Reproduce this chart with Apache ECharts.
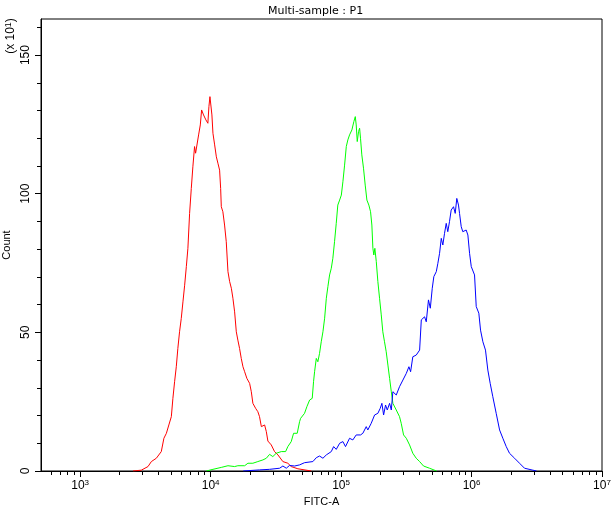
<!DOCTYPE html>
<html>
<head>
<meta charset="utf-8">
<script src="https://cdn.jsdelivr.net/npm/echarts@6/dist/echarts.min.js"></script>
<style>
html,body{margin:0;padding:0;background:#fff;}
#chart{width:611px;height:510px;}
</style>
</head>
<body>
<div id="chart"></div>
<script>
// FITC-A values are stored as log10 exponents (decades); counts in units of x10^1
const title = 'Multi-sample : P1';
const xName = 'FITC-A';
const yName = 'Count';
const yScaleNote = '(x 10';
const xMajor = [3, 4, 5, 6, 7];
const yMajor = [0, 50, 100, 150];
const yMinor = [10, 20, 30, 40, 60, 70, 80, 90, 110, 120, 130, 140, 160];

const redX = [3.405,3.469,3.520,3.546,3.584,3.622,3.642,3.661,3.680,3.699,3.711,3.724,3.737,3.749,3.762,3.775,3.788,3.801,3.814,3.826,3.839,3.852,3.864,3.877,3.885,3.898,3.908,3.921,3.931,3.946,3.964,3.979,3.987,3.995,4.000,4.005,4.010,4.018,4.031,4.044,4.056,4.069,4.077,4.082,4.094,4.107,4.120,4.133,4.146,4.159,4.171,4.184,4.197,4.209,4.222,4.235,4.248,4.261,4.278,4.299,4.312,4.324,4.345,4.362,4.375,4.389,4.401,4.414,4.427,4.439,4.465,4.490,4.516,4.554,4.592,4.618,4.669,4.772];
const redY = [0,0.3,1.6,3.4,4.6,7.0,11.8,13.6,16.6,19.6,26.2,32.2,37.6,44.2,50.2,55.0,61.0,67.0,73.7,80.3,92.9,101.9,109.7,117.0,114.6,114.0,121.2,124.8,130.2,128.4,126.6,125.4,131.4,135.0,135.6,134.4,128.4,121.8,117.6,113.3,111.0,108.5,101.9,95.3,93.5,88.7,82.7,71.9,68.3,65.9,62.3,57.4,50.2,47.2,44.2,40.6,37.6,35.8,33.4,31.6,28.6,24.4,22.6,21.4,19.6,16.0,15.4,16.6,14.2,10.8,9.4,7.0,5.8,3.4,2.8,1.6,0.8,0];

const greenX = [3.967,4.018,4.082,4.133,4.184,4.209,4.261,4.286,4.324,4.362,4.401,4.427,4.452,4.477,4.503,4.542,4.575,4.592,4.618,4.636,4.664,4.682,4.690,4.720,4.738,4.759,4.779,4.789,4.797,4.810,4.822,4.835,4.848,4.861,4.874,4.887,4.899,4.912,4.925,4.937,4.950,4.963,4.975,4.989,5.002,5.014,5.027,5.040,5.052,5.065,5.083,5.098,5.109,5.116,5.124,5.134,5.142,5.149,5.159,5.172,5.185,5.198,5.213,5.226,5.236,5.244,5.251,5.259,5.270,5.282,5.295,5.308,5.320,5.333,5.346,5.359,5.372,5.385,5.397,5.423,5.448,5.461,5.479,5.500,5.525,5.550,5.576,5.602,5.632,5.678,5.732];
const greenY = [0,0.6,1.3,1.9,1.6,1.9,1.9,2.8,2.8,3.4,4.0,4.6,6.0,5.2,6.4,7.0,7.0,8.8,10.6,13.6,13.6,17.8,19.0,20.8,23.2,25.6,26.2,32.2,35.8,40.6,39.4,42.4,46.6,50.2,55.1,62.3,66.5,70.7,73.1,76.7,82.7,89.3,95.9,97.7,99.5,104.3,110.3,117.0,119.4,121.2,123.0,126.0,127.8,124.8,118.8,122.4,123.6,120.0,114.0,109.2,103.1,97.7,95.9,93.5,88.7,80.3,77.9,80.3,75.5,68.3,62.3,56.3,50.2,46.6,43.0,38.2,33.4,28.6,24.4,22.0,19.6,17.2,13.0,11.8,9.4,6.4,4.6,3.4,1.8,1.0,0];

const blueX = [4.250,4.375,4.452,4.529,4.554,4.580,4.605,4.644,4.682,4.720,4.784,4.810,4.835,4.861,4.887,4.925,4.943,4.963,4.989,5.014,5.034,5.065,5.090,5.116,5.149,5.167,5.193,5.205,5.231,5.257,5.282,5.300,5.313,5.326,5.341,5.354,5.372,5.385,5.397,5.423,5.448,5.474,5.500,5.520,5.533,5.550,5.576,5.602,5.615,5.640,5.653,5.670,5.684,5.699,5.711,5.730,5.742,5.755,5.768,5.780,5.793,5.806,5.818,5.831,5.844,5.862,5.875,5.887,5.900,5.908,5.921,5.933,5.959,5.972,5.985,5.998,6.023,6.036,6.056,6.069,6.087,6.107,6.125,6.143,6.163,6.189,6.215,6.240,6.266,6.291,6.330,6.368,6.406,6.470,6.498];
const blueY = [0,0.4,0.6,1.0,1.8,1.0,2.0,1.8,2.2,3.0,3.4,4.8,5.4,4.6,5.8,7.0,8.8,7.8,10.0,10.6,8.8,11.8,11.2,13.0,13.0,13.6,16.0,14.8,17.2,20.2,20.8,22.6,24.4,20.2,23.8,22.0,24.4,22.0,28.6,27.4,30.4,32.8,35.2,37.6,35.8,41.2,41.8,43.6,54.5,55.6,53.8,61.7,58.7,65.9,70.1,71.9,74.9,78.5,83.9,81.5,85.7,89.3,86.3,89.9,94.1,95.3,92.9,98.3,95.9,92.9,88.1,86.3,86.9,85.1,78.5,73.7,70.7,59.3,56.9,50.8,46.6,43.6,36.4,31.6,26.8,20.8,14.8,11.8,8.8,6.4,4.6,2.8,1.0,0.3,0];

// log-scale minor tick positions (k * 10^n)
const xMinor = [];
for (let n = 2; n <= 6; n++) {
  for (let k = 2; k <= 9; k++) {
    const v = Math.log10(k * Math.pow(10, n));
    if (v > 2.72 && v < 7) xMinor.push(v);
  }
}

const pairs = (xs, ys) => xs.map((x, i) => [x, ys[i]]);
const font = 'Liberation Sans, Arial, sans-serif';

const chart = echarts.init(document.getElementById('chart'), null, {renderer: 'canvas'});
chart.setOption({
  animation: false,
  backgroundColor: '#fff',
  title: {
    text: title, left: 263, top: 1,
    textStyle: {fontSize: 11, fontWeight: 'normal', color: '#000', fontFamily: 'DejaVu Sans, sans-serif'}
  },
  grid: {left: 41, right: 9, top: 19, bottom: 39, outerBoundsMode: 'none', containLabel: false,
         show: true, borderColor: '#000', borderWidth: 1, backgroundColor: 'transparent'},
  graphic: [{
    type: 'text', x: 11, y: 36, rotation: Math.PI / 2,
    style: {
      text: yScaleNote + '{s|1}' + ')',
      fill: '#000', font: '12px ' + font, align: 'center', verticalAlign: 'middle',
      rich: {s: {fontSize: 9, fontFamily: font, fill: '#000', verticalAlign: 'top', padding: [0, 0, 5, 0]}}
    }
  }],
  xAxis: [{
    type: 'value', min: 2.7, max: 7, position: 'bottom',
    name: xName, nameLocation: 'middle', nameGap: 24,
    nameTextStyle: {fontSize: 11, color: '#000', fontFamily: font},
    axisLine: {show: true, lineStyle: {color: '#000', width: 1}},
    axisTick: {show: true, length: 6, customValues: xMajor, lineStyle: {color: '#000'}},
    axisLabel: {
      show: true, customValues: xMajor, margin: 8, color: '#000',
      fontSize: 12, fontFamily: font,
      formatter: v => '10{s|' + Math.round(v) + '}',
      rich: {s: {fontSize: 8, fontFamily: font, color: '#000', verticalAlign: 'top', padding: [0, 0, 6, 0]}}
    },
    splitLine: {show: false}
  }, {
    type: 'value', min: 2.7, max: 7, position: 'bottom',
    axisLine: {show: false},
    axisTick: {show: true, length: 4, customValues: xMinor, lineStyle: {color: '#000'}},
    axisLabel: {show: false},
    splitLine: {show: false}
  }],
  yAxis: [{
    type: 'value', min: 0, max: 163, interval: 50, position: 'left',
    name: yName, nameLocation: 'middle', nameGap: 26, nameRotate: 90,
    nameTextStyle: {fontSize: 11, color: '#000', fontFamily: font},
    axisLine: {show: true, lineStyle: {color: '#000', width: 1}},
    axisTick: {show: true, length: 6, customValues: yMajor, lineStyle: {color: '#000'}},
    axisLabel: {show: true, customValues: yMajor, rotate: 90, margin: 9, color: '#000', fontSize: 12, fontFamily: font},
    splitLine: {show: false}
  }, {
    type: 'value', min: 0, max: 163, interval: 50, position: 'left',
    axisLine: {show: false},
    axisTick: {show: true, length: 4, customValues: yMinor, lineStyle: {color: '#000'}},
    axisLabel: {show: false},
    splitLine: {show: false}
  }],
  series: [
    {type: 'line', data: pairs(redX, redY), showSymbol: false, symbol: 'none', lineStyle: {color: '#ff0000', width: 1}, itemStyle: {color: '#ff0000'}},
    {type: 'line', data: pairs(greenX, greenY), showSymbol: false, symbol: 'none', lineStyle: {color: '#00ff00', width: 1}, itemStyle: {color: '#00ff00'}},
    {type: 'line', data: pairs(blueX, blueY), showSymbol: false, symbol: 'none', lineStyle: {color: '#0000ff', width: 1}, itemStyle: {color: '#0000ff'}}
  ]
});
</script>
</body>
</html>
